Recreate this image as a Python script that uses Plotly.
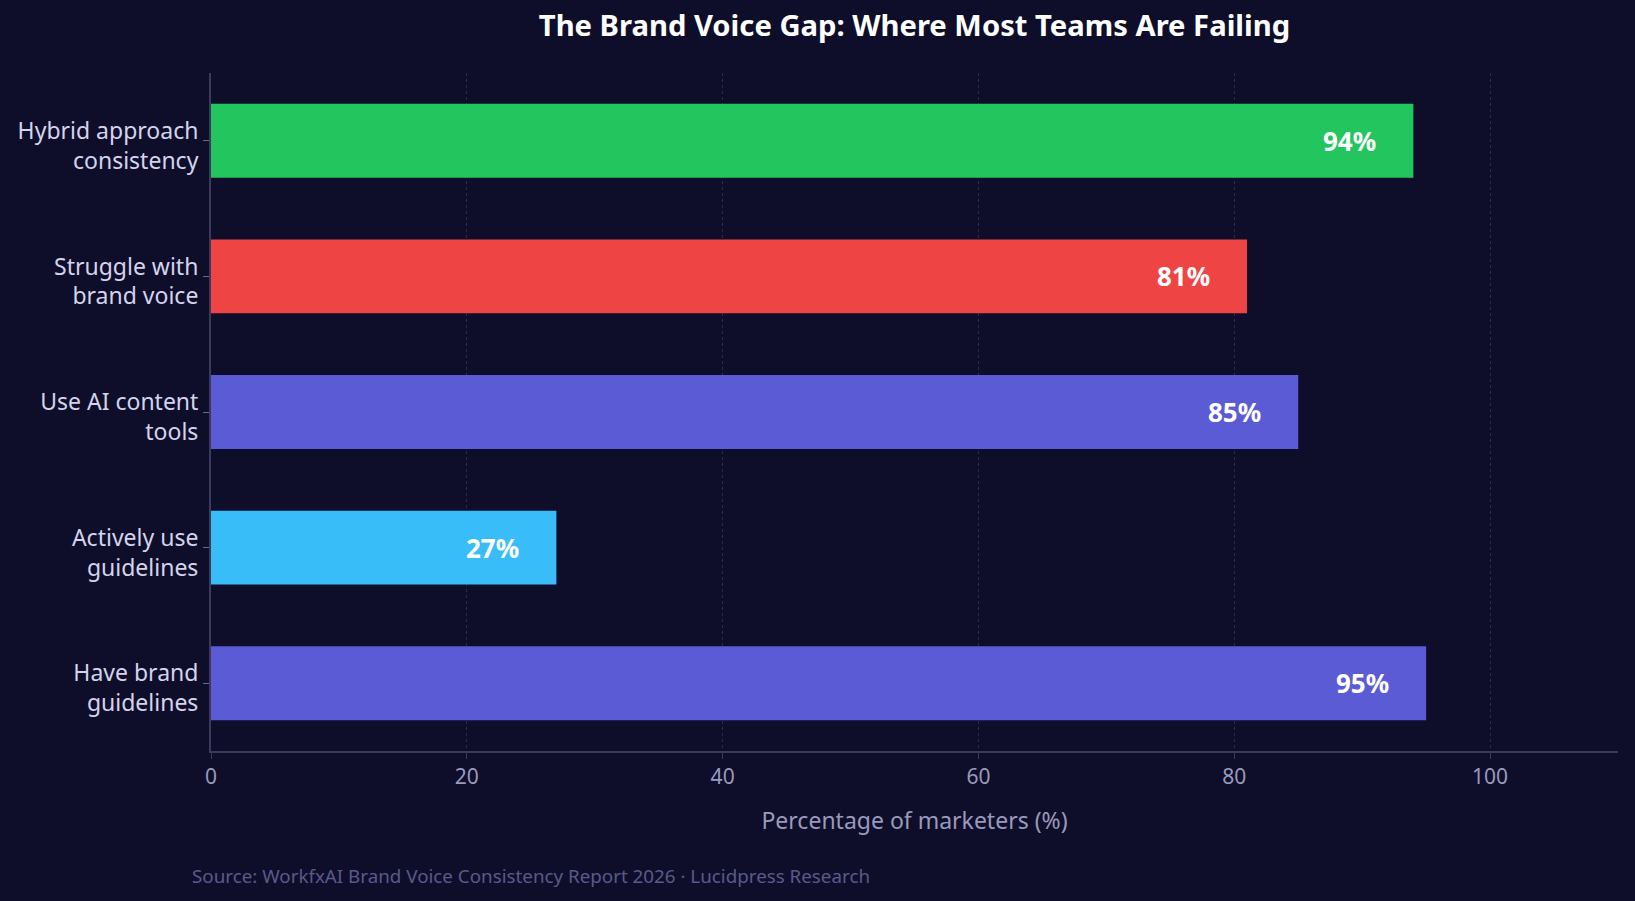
import plotly.graph_objects as go

categories = ["Have brand<br>guidelines", "Actively use<br>guidelines", "Use AI content<br>tools",
              "Struggle with<br>brand voice", "Hybrid approach<br>consistency"]
values = [95, 27, 85, 81, 94]
colors = ["#5b5bd6", "#38bdf8", "#5b5bd6", "#ef4444", "#22c55e"]
x_ticks = [0, 20, 40, 60, 80, 100]

BG = "#0e0e2b"

fig = go.Figure()
fig.add_trace(go.Bar(
    x=values, y=categories, orientation="h",
    marker=dict(color=colors, line=dict(width=0)),
    width=0.545, hoverinfo="skip",
))

for v, c in zip(values, categories):
    fig.add_annotation(x=v - 5, y=c, text=f"<b>{v}%</b>", showarrow=False,
                       xanchor="center", yanchor="middle",
                       font=dict(family="Noto Sans", size=26, color="#ffffff"))

fig.add_annotation(xref="paper", yref="paper", x=-0.015, y=-0.184,
                   xanchor="left", yanchor="middle", showarrow=False,
                   text="Source: WorkfxAI Brand Voice Consistency Report 2026 · Lucidpress Research",
                   font=dict(family="Noto Sans", size=18.8, color="#5a5a88"))

fig.update_layout(
    width=1635, height=901,
    paper_bgcolor=BG, plot_bgcolor=BG,
    margin=dict(l=211, r=17, t=73, b=150),
    title=dict(text="<b>The Brand Voice Gap: Where Most Teams Are Failing</b>",
               xref="paper", x=0.5, xanchor="center", y=0.971, yanchor="middle",
               font=dict(family="Noto Sans", size=29.2, color="#ffffff")),
    showlegend=False,
    font=dict(family="Noto Sans"),
    bargap=0.45,
)
fig.update_xaxes(
    range=[0, 110], tickvals=x_ticks, ticks="outside", ticklen=6, tickcolor="#3a3a5c",
    tickfont=dict(size=21, color="#9a9abb"),
    showgrid=True, gridcolor="#2a2a4c", griddash="dot", gridwidth=1,
    showline=True, linecolor="#3a3a5c", linewidth=2, zeroline=False,
    title=dict(text="Percentage of marketers (%)", font=dict(size=23, color="#9a9abb"), standoff=24),
)
fig.update_yaxes(
    ticks="outside", ticklen=6, tickcolor="#6a6a8c",
    tickfont=dict(size=23, color="#d4d4ec"), ticklabelshift=5,
    showgrid=False, showline=True, linecolor="#3a3a5c", linewidth=2, zeroline=False,
    range=[-0.5, 4.5],
)

fig.write_html("out.html")
